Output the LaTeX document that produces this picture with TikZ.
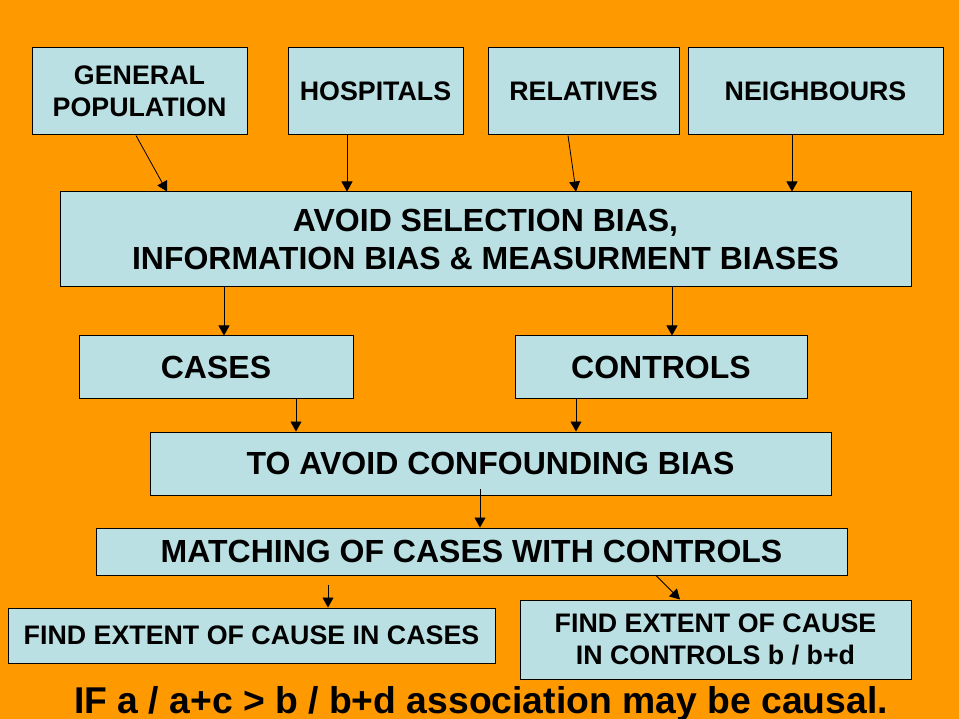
\documentclass[tikz,border=0pt]{standalone}
\usepackage{fontspec}
\setmainfont{Liberation Sans}
\usetikzlibrary{arrows.meta}
\definecolor{slideorange}{HTML}{FF9900}
\definecolor{boxblue}{HTML}{BBE0E3}
\tikzset{box/.style={draw,fill=boxblue,line width=1pt,inner sep=0pt,align=center},
bigtext/.style={font=\fontsize{32}{38}\selectfont\bfseries},
medtext/.style={font=\fontsize{26.8}{32}\selectfont\bfseries},
arr/.style={line width=0.8pt,-{Triangle[width=11pt,length=10pt]}}}
\begin{document}
\begin{tikzpicture}[x=1pt,y=-1pt]
\fill[slideorange] (0,0) rectangle (959,719);
\useasboundingbox (0,0) rectangle (959,719);
\node[box,medtext,minimum width=215,minimum height=87] (genpop) at (139.5,91.5) {GENERAL\\POPULATION};
\node[box,medtext,minimum width=175,minimum height=87] (hosp) at (375.5,91.5) {HOSPITALS};
\node[box,medtext,minimum width=191,minimum height=87] (rel) at (583.5,91.5) {RELATIVES};
\node[box,medtext,minimum width=255,minimum height=87] (neigh) at (815.5,91.5) {NEIGHBOURS};
\node[box,bigtext,minimum width=851,minimum height=95] (avoid) at (485.5,239.5) {AVOID SELECTION BIAS,\\INFORMATION BIAS \& MEASURMENT BIASES};
\node[box,bigtext,minimum width=274,minimum height=63] (cases) at (216,367.5) {CASES};
\node[box,bigtext,minimum width=292,minimum height=63] (controls) at (661,367.5) {CONTROLS};
\node[box,bigtext,minimum width=681,minimum height=63] (conf) at (490.5,463.5) {TO AVOID CONFOUNDING BIAS};
\node[box,bigtext,minimum width=751,minimum height=47] (match) at (471.5,551.5) {MATCHING OF CASES WITH CONTROLS};
\node[box,medtext,minimum width=487,minimum height=55] (findcases) at (251.5,635.5) {FIND EXTENT OF CAUSE IN CASES};
\node[box,medtext,minimum width=391,minimum height=79] (findcontrols) at (715.5,639.5) {FIND EXTENT OF CAUSE\\IN CONTROLS b / b+d};
\node[font=\fontsize{37.3}{40}\selectfont\bfseries,anchor=base] (rule) at (481,713) {IF a / a+c > b / b+d association may be causal.};
\draw[arr] ([xshift=-3.5]genpop.south) -- ([xshift=-318.5]avoid.north);
\draw[arr] ([xshift=-28.5]hosp.south) -- ([xshift=-28.5]hosp.south |- avoid.north);
\draw[arr] ([xshift=-15.5]rel.south) -- ([xshift=90.5]avoid.north);
\draw[arr] ([xshift=-23.5]neigh.south) -- ([xshift=-23.5]neigh.south |- avoid.north);
\draw[arr] ([xshift=-261.5]avoid.south) -- ([xshift=-261.5]avoid.south |- cases.north);
\draw[arr] ([xshift=186.5]avoid.south) -- ([xshift=186.5]avoid.south |- controls.north);
\draw[arr] ([xshift=80]cases.south) -- ([xshift=80]cases.south |- conf.north);
\draw[arr] ([xshift=-85]controls.south) -- ([xshift=-85]controls.south |- conf.north);
\draw[arr] ([xshift=-10.5,yshift=7]conf.south) -- ([xshift=-10.5]conf.south |- match.north);
\coordinate (gap) at ([xshift=-143.5,yshift=-9]match.south);
\draw[arr] (gap) -- (gap |- findcases.north);
\draw[arr] ([xshift=184.5]match.south) -- ([xshift=-35.5]findcontrols.north);
\end{tikzpicture}
\end{document}
